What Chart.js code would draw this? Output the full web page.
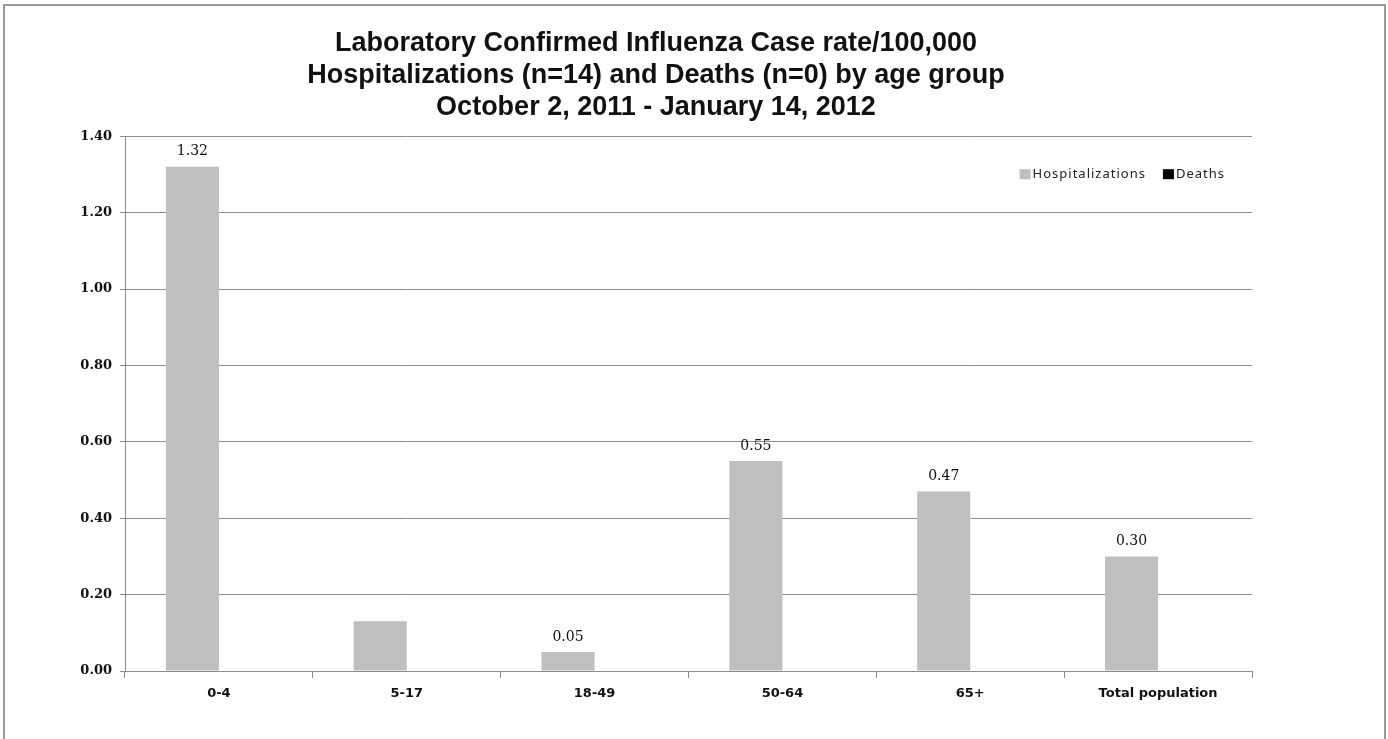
<!DOCTYPE html>
<html>
<head>
<meta charset="utf-8">
<script src="https://cdn.jsdelivr.net/npm/chart.js@4"></script>
<style>
  body { margin: 0; background: #fff; }
  #wrap { position: relative; width: 1388px; height: 739px; }
  #frame { position: absolute; left: 3px; top: 4px; width: 1379px; height: 740px;
           border: 2px solid #9a9a9a; border-bottom: none; pointer-events: none; }
</style>
</head>
<body>
<div id="wrap">
  <canvas id="flu" width="1388" height="739"></canvas>
  <div id="frame"></div>
</div>
<script>
let titleLines = [
  "Laboratory Confirmed Influenza Case rate/100,000",
  "Hospitalizations (n=14) and Deaths (n=0) by age group",
  "October 2, 2011 - January 14, 2012"
];
let ageGroups = ["0-4", "5-17", "18-49", "50-64", "65+", "Total population"];
let hospitalizations = [1.32, 0.13, 0.05, 0.55, 0.47, 0.30];
let deaths = [0, 0, 0, 0, 0, 0];
// the chart shows no label over 5-17
let hospLabels = ["1.32", null, "0.05", "0.55", "0.47", "0.30"];
let yTicks = [0, 0.2, 0.4, 0.6, 0.8, 1.0, 1.2, 1.4];

// value labels above the grey bars
const barLabels = {
  id: "barLabels",
  afterDatasetsDraw(chart) {
    let ctx = chart.ctx;
    let meta = chart.getDatasetMeta(0);
    ctx.save();
    ctx.font = "14px 'DejaVu Serif'";
    ctx.fillStyle = "#111";
    ctx.textAlign = "center";
    ctx.textBaseline = "bottom";
    meta.data.forEach((bar, i) => {
      if (hospLabels[i]) ctx.fillText(hospLabels[i], bar.x, bar.y - 8);
    });
    ctx.restore();
  }
};

// small legend inside the plot, top right
const cornerLegend = {
  id: "cornerLegend",
  afterDraw(chart) {
    let ctx = chart.ctx;
    ctx.save();
    ctx.font = "13px 'Noto Sans'";
    ctx.letterSpacing = "1px";
    ctx.textBaseline = "middle";
    let y = chart.chartArea.top + 38;
    let x = chart.chartArea.right - 27;
    let sets = chart.data.datasets.slice().reverse();
    sets.forEach((ds, i) => {
      let w = ctx.measureText(ds.label).width;
      x -= w;
      ctx.fillStyle = "#222";
      ctx.fillText(ds.label, x, y);
      x -= 13;
      ctx.fillStyle = ds.backgroundColor;
      ctx.fillRect(x, y - 5, 11, 10);
      x -= 17;
    });
    ctx.restore();
  }
};

new Chart("flu", {
  type: "bar",
  data: {
    labels: ageGroups,
    datasets: [
      {
        label: "Hospitalizations",
        data: hospitalizations,
        backgroundColor: "#bfbfbf",
        categoryPercentage: 0.565,
        barPercentage: 1.0
      },
      {
        label: "Deaths",
        data: deaths,
        backgroundColor: "#000",
        categoryPercentage: 0.565,
        barPercentage: 1.0
      }
    ]
  },
  options: {
    responsive: false,
    animation: false,
    layout: { padding: { left: 60, right: 136, top: 27, bottom: 0 } },
    plugins: {
      title: {
        display: true,
        text: titleLines,
        color: "#111",
        font: { family: "'Liberation Sans'", size: 27, weight: "bold", lineHeight: 1.2 },
        padding: { top: 0, bottom: 12 }
      },
      legend: { display: false },
      tooltip: { enabled: false }
    },
    scales: {
      x: {
        afterFit(axis) { axis.height = 68; },
        grid: {
          offset: true,
          drawOnChartArea: false,
          drawTicks: true,
          tickLength: 7,
          color: "#8c8c8c"
        },
        border: { color: "#8c8c8c" },
        ticks: {
          color: "#111",
          padding: 8,
          font: { family: "'DejaVu Sans'", size: 13, weight: "bold" }
        }
      },
      y: {
        min: 0,
        max: 1.4,
        afterBuildTicks(axis) {
          axis.ticks = yTicks.map(v => ({ value: v }));
        },
        afterFit(axis) { axis.width = 65; },
        grid: { color: "#8c8c8c", tickLength: 5 },
        border: { color: "#8c8c8c" },
        ticks: {
          color: "#111",
          padding: 8,
          font: { family: "'DejaVu Serif'", size: 13, weight: "bold" },
          callback: v => v.toFixed(2)
        }
      }
    }
  },
  plugins: [barLabels, cornerLegend]
});
</script>
</body>
</html>
